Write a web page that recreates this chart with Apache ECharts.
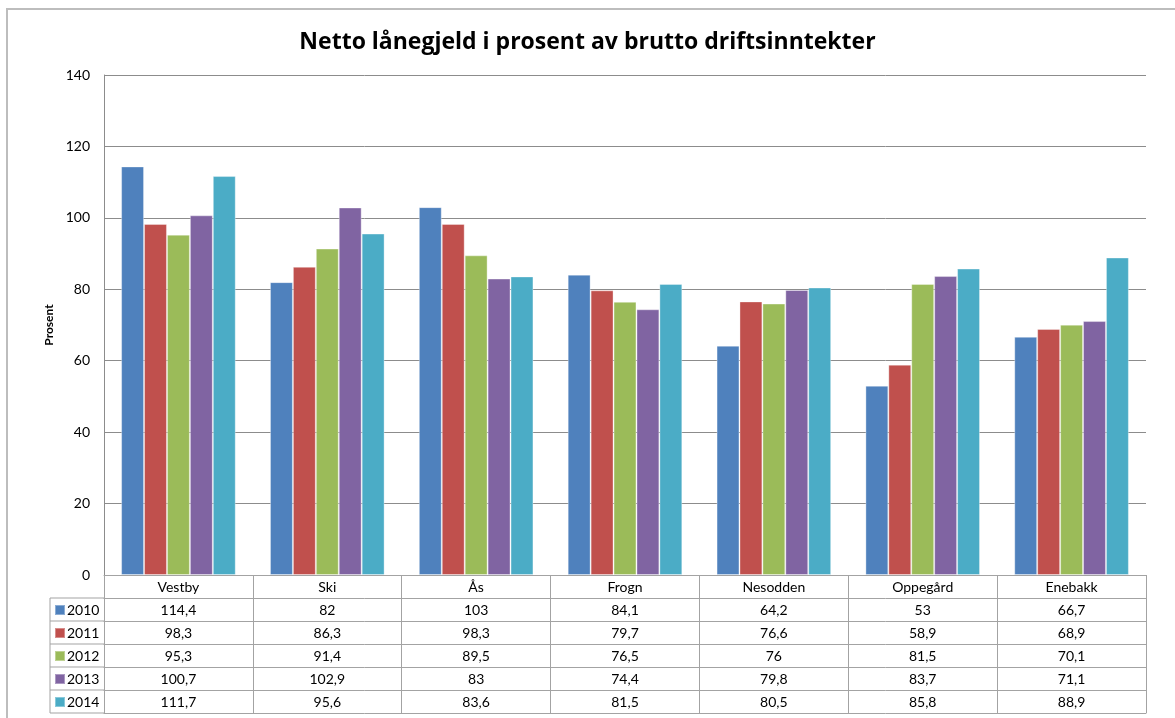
<!DOCTYPE html>
<html>
<head>
<meta charset="utf-8">
<title>Netto lånegjeld</title>
<script src="https://cdn.jsdelivr.net/npm/echarts@6/dist/echarts.min.js"></script>
<style>
    html, body { margin: 0; padding: 0; background: #fff; }
    #chart { width: 1175px; height: 718px; }
</style>
</head>
<body>
<div id="chart"></div>
<script>
    var categories = ['Vestby', 'Ski', 'Ås', 'Frogn', 'Nesodden', 'Oppegård', 'Enebakk'];
    var years = ['2010', '2011', '2012', '2013', '2014'];
    var v2010 = [114.4, 82, 103, 84.1, 64.2, 53, 66.7];
    var v2011 = [98.3, 86.3, 98.3, 79.7, 76.6, 58.9, 68.9];
    var v2012 = [95.3, 91.4, 89.5, 76.5, 76, 81.5, 70.1];
    var v2013 = [100.7, 102.9, 83, 74.4, 79.8, 83.7, 71.1];
    var v2014 = [111.7, 95.6, 83.6, 81.5, 80.5, 85.8, 88.9];
    var yTicks = [0, 20, 40, 60, 80, 100, 120, 140];

    var values = [v2010, v2011, v2012, v2013, v2014];
    var colors = ['#4F81BD', '#C0504D', '#9BBB59', '#8064A2', '#4BACC6'];

    var font = 'Lato, "Open Sans", sans-serif';
    var lineColor = '#a3a3a3';
    var gridLeft = 104, gridTop = 75, gridRight = 29, plotBottom = 575;
    var rowH = 23, legendLeft = 50;

    function fmt(v) {
        return String(v).replace('.', ',');
    }

    var chart = echarts.init(document.getElementById('chart'));

    // data table rows built as extra x axes stacked under the plot
    var xAxes = [{
        type: 'category',
        data: categories,
        position: 'bottom',
        axisLine: { lineStyle: { color: lineColor, width: 1 } },
        axisTick: { show: true, interval: 0, length: rowH, lineStyle: { color: lineColor } },
        axisLabel: { interval: 0, margin: 5, fontSize: 14, color: '#000', fontFamily: font }
    }];
    values.forEach(function (arr, k) {
        xAxes.push({
            type: 'category',
            data: categories,
            position: 'bottom',
            offset: rowH * (k + 1),
            axisLine: { lineStyle: { color: lineColor, width: 1 } },
            axisTick: { show: true, interval: 0, length: rowH, lineStyle: { color: lineColor } },
            axisLabel: {
                interval: 0, margin: 5, fontSize: 14, color: '#000', fontFamily: font,
                formatter: function (val, i) { return fmt(arr[i]); }
            }
        });
    });
    xAxes.push({
        type: 'category',
        data: categories,
        position: 'bottom',
        offset: rowH * (values.length + 1),
        axisLine: { lineStyle: { color: lineColor, width: 1 } },
        axisTick: { show: false },
        axisLabel: { show: false }
    });

    var series = years.map(function (y, k) {
        return {
            name: y,
            type: 'bar',
            xAxisIndex: 0,
            data: values[k],
            barGap: 0,
            barCategoryGap: '23%',
            itemStyle: { color: colors[k], borderColor: 'rgba(255,255,255,0.35)', borderWidth: 1 }
        };
    });

    // left column of the table (legend keys)
    var tableGraphics = [{
        type: 'line',
        shape: { x1: legendLeft, y1: plotBottom + rowH, x2: legendLeft, y2: plotBottom + rowH * 6 },
        style: { stroke: lineColor, lineWidth: 1 }
    }];
    for (var r = 1; r <= 6; r++) {
        tableGraphics.push({
            type: 'line',
            shape: { x1: legendLeft, y1: plotBottom + rowH * r, x2: gridLeft, y2: plotBottom + rowH * r },
            style: { stroke: lineColor, lineWidth: 1 }
        });
    }
    tableGraphics.push({
        type: 'rect',
        shape: { x: 7, y: 9, width: 1200, height: 760 },
        style: { fill: 'none', stroke: '#bdbdbd', lineWidth: 2 },
        silent: true
    });

    var option = {
        backgroundColor: '#fff',
        color: colors,
        animation: false,
        title: {
            text: 'Netto lånegjeld i prosent av brutto driftsinntekter',
            left: 'center',
            top: 26,
            padding: [5, 5, 5, 16],
            textStyle: { fontSize: 23, fontWeight: 'bold', color: '#000', fontFamily: '"Open Sans", sans-serif' }
        },
        legend: {
            orient: 'vertical',
            left: 54,
            top: plotBottom + rowH + 5,
            padding: 0,
            height: 130,
            icon: 'rect',
            itemWidth: 10,
            itemHeight: 10,
            itemGap: 9,
            data: years,
            textStyle: { fontSize: 14, lineHeight: 14, color: '#000', fontFamily: font, padding: [0, 0, 0, -3] }
        },
        grid: { left: gridLeft, right: gridRight, top: gridTop, bottom: 718 - plotBottom, containLabel: false },
        xAxis: xAxes,
        yAxis: {
            type: 'value',
            min: yTicks[0],
            max: yTicks[yTicks.length - 1],
            interval: 20,
            name: 'Prosent',
            nameLocation: 'middle',
            nameRotate: 90,
            nameGap: 40,
            nameTextStyle: { fontSize: 12, fontWeight: 'bold', color: '#000', fontFamily: font },
            axisLine: { show: true, lineStyle: { color: '#8c8c8c' } },
            axisTick: { show: false },
            axisLabel: { margin: 14, fontSize: 14, color: '#000', fontFamily: font },
            splitLine: { lineStyle: { color: '#8c8c8c' } }
        },
        graphic: tableGraphics,
        series: series
    };

    option && chart.setOption(option);
</script>
</body>
</html>
